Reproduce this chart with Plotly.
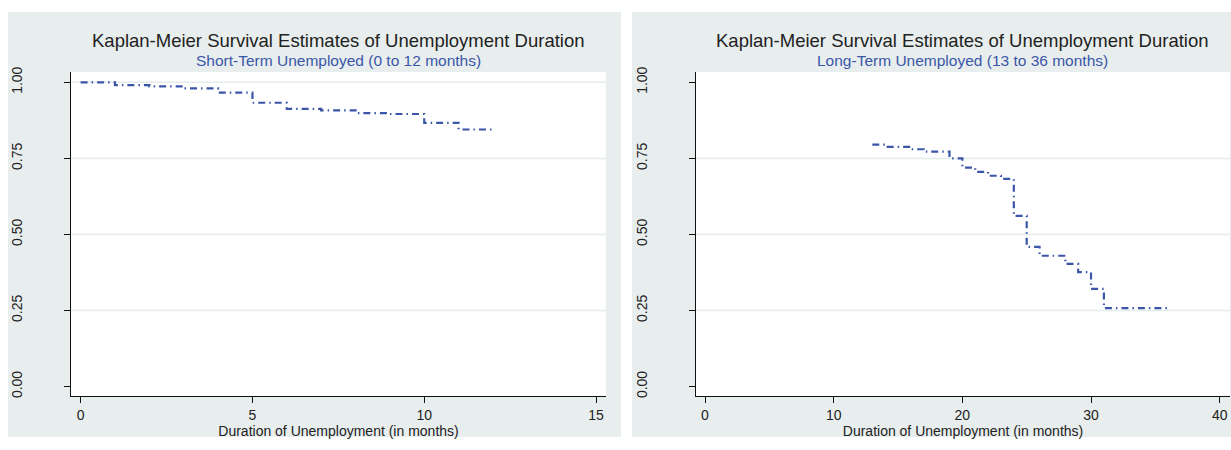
import plotly.graph_objects as go

# ---- Data ----
short_months = [0, 1, 2, 3, 4, 5, 6, 7, 8, 9, 10, 11, 12]
short_surv = [1.000, 0.991, 0.987, 0.980, 0.966, 0.933, 0.913, 0.908, 0.899, 0.896, 0.867, 0.845, 0.845]

long_months = [13, 14, 16, 17, 19, 20, 21, 22, 23, 24, 25, 26, 28, 29, 30, 31, 36]
long_surv = [0.795, 0.788, 0.780, 0.772, 0.750, 0.720, 0.706, 0.693, 0.683, 0.561, 0.459,
             0.430, 0.403, 0.376, 0.321, 0.258, 0.258]

y_ticks = [0, 0.25, 0.5, 0.75, 1.0]
y_ticktext = ["0.00", "0.25", "0.50", "0.75", "1.00"]
short_xticks = [0, 5, 10, 15]
long_xticks = [0, 10, 20, 30, 40]
left_grid = [0.25, 0.5, 0.75, 1.0]
right_grid = [0.25, 0.5, 0.75]

title_text = "Kaplan-Meier Survival Estimates of Unemployment Duration"
sub_left = "Short-Term Unemployed (0 to 12 months)"
sub_right = "Long-Term Unemployed (13 to 36 months)"
xtitle = "Duration of Unemployment (in months)"

# ---- Style ----
W, H = 1231, 450
FONT = "Liberation Sans, Arial, sans-serif"
LINE = "#3B56A8"
PANEL = "#E8EEEE"
GRID = "#E4ECEC"
TXT = "#222222"

def px(x):
    return x / W

def py(y):
    return 1 - y / H

left_dom = [px(71), px(606)]
right_dom = [px(696), px(1230)]
ydom = [py(396), py(72)]

fig = go.Figure()
fig.add_trace(go.Scatter(x=short_months, y=short_surv, mode="lines", line_shape="hv",
                         line=dict(color=LINE, width=2.2, dash="7px,4px,1.5px,4px"),
                         xaxis="x", yaxis="y", showlegend=False, hoverinfo="skip"))
fig.add_trace(go.Scatter(x=long_months, y=long_surv, mode="lines", line_shape="hv",
                         line=dict(color=LINE, width=2.2, dash="7px,4px,1.5px,4px"),
                         xaxis="x2", yaxis="y2", showlegend=False, hoverinfo="skip"))

axis_common = dict(showline=True, linecolor="#111111", linewidth=1.2, ticks="outside",
                   ticklen=6, tickcolor="#111111", tickwidth=1.2, showgrid=False,
                   zeroline=False, automargin=False,
                   tickfont=dict(family=FONT, size=14, color=TXT))

# white strips around / between the two tinted panels (paper background is the tint)
white = dict(fillcolor="white", line=dict(width=0), layer="below", type="rect",
             xref="paper", yref="paper")
shapes = [
    dict(x0=0, x1=1, y0=py(12), y1=1, **white),          # top strip
    dict(x0=0, x1=1, y0=0, y1=py(437), **white),          # bottom strip
    dict(x0=0, x1=px(8), y0=0, y1=1, **white),            # left strip
    dict(x0=px(621), x1=px(632), y0=0, y1=1, **white),    # gap between panels
]
for g in left_grid:
    shapes.append(dict(type="line", xref="x domain", yref="y", x0=0, x1=1, y0=g, y1=g,
                       line=dict(color=GRID, width=1.5), layer="below"))
for g in right_grid:
    shapes.append(dict(type="line", xref="x2 domain", yref="y2", x0=0, x1=1, y0=g, y1=g,
                       line=dict(color=GRID, width=1.5), layer="below"))

annotations = []
for dom, sub in [(left_dom, sub_left), (right_dom, sub_right)]:
    cx = (dom[0] + dom[1]) / 2
    annotations.append(dict(text=title_text, x=cx, y=py(40), xref="paper", yref="paper",
                            showarrow=False, xanchor="center", yanchor="middle",
                            font=dict(family=FONT, size=18.5, color=TXT)))
    annotations.append(dict(text=sub, x=cx, y=py(61), xref="paper", yref="paper",
                            showarrow=False, xanchor="center", yanchor="middle",
                            font=dict(family=FONT, size=15.5, color=LINE)))

fig.update_layout(
    width=W, height=H,
    margin=dict(l=0, r=0, t=0, b=0, pad=0, autoexpand=False),
    paper_bgcolor=PANEL,
    plot_bgcolor="white",
    font=dict(family=FONT, color=TXT),
    shapes=shapes,
    annotations=annotations,
    hovermode=False,
    xaxis=dict(domain=left_dom, range=[-0.28, 15.29], tickvals=short_xticks, anchor="y",
               title=dict(text=xtitle, standoff=2, font=dict(family=FONT, size=14, color=TXT)),
               **axis_common),
    yaxis=dict(domain=ydom, range=[-0.031, 1.034], tickvals=y_ticks, ticktext=y_ticktext,
               tickangle=-90, ticklabelstandoff=36, anchor="x", **axis_common),
    xaxis2=dict(domain=right_dom, range=[-0.7, 40.8], tickvals=long_xticks, anchor="y2",
                title=dict(text=xtitle, standoff=2, font=dict(family=FONT, size=14, color=TXT)),
                **axis_common),
    yaxis2=dict(domain=ydom, range=[-0.031, 1.034], tickvals=y_ticks, ticktext=y_ticktext,
                tickangle=-90, ticklabelstandoff=36, anchor="x2", **axis_common),
)

fig.write_html("out.html", config={"displayModeBar": False},
               post_script="document.body.style.margin='0';document.body.style.overflow='hidden';")
